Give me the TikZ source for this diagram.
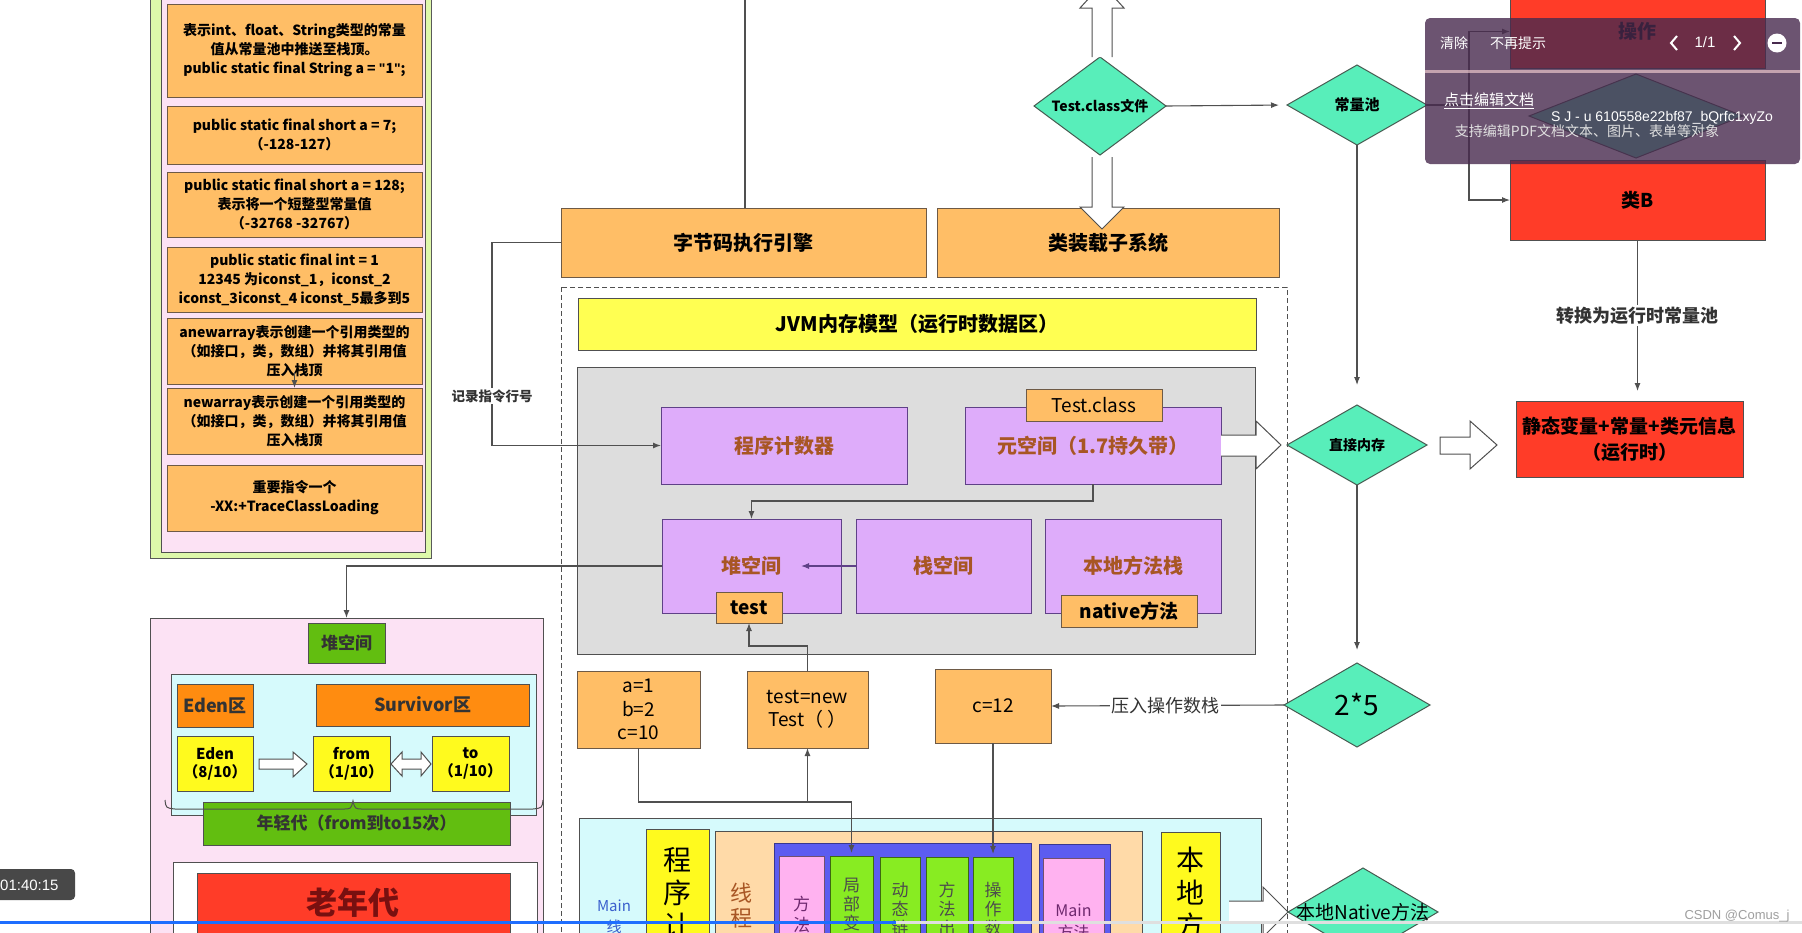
\documentclass[tikz,border=0pt]{standalone}
\usepackage{fontspec}
\setmainfont{Noto Sans CJK SC}
\newfontfamily\uisans{Liberation Sans}
\usetikzlibrary{shapes.geometric,arrows.meta}

\definecolor{orangebox}{RGB}{255,190,102}
\definecolor{obedge}{RGB}{110,90,70}
\definecolor{edge}{RGB}{80,80,80}
\definecolor{lgreen}{RGB}{222,248,170}
\definecolor{panelpink}{RGB}{252,226,244}
\definecolor{violet}{RGB}{222,172,250}
\definecolor{violetedge}{RGB}{95,65,135}
\definecolor{violettext}{RGB}{168,86,36}
\definecolor{jvmyellow}{RGB}{255,255,82}
\definecolor{ylw}{RGB}{255,250,30}
\definecolor{graybg}{RGB}{221,221,221}
\definecolor{mint}{RGB}{88,238,186}
\definecolor{diaedge}{RGB}{70,90,80}
\definecolor{redbox}{RGB}{255,60,40}
\definecolor{leaf}{RGB}{98,190,16}
\definecolor{cyanbg}{RGB}{214,250,252}
\definecolor{darkorange}{RGB}{255,140,16}
\definecolor{peach}{RGB}{255,218,168}
\definecolor{frameblue}{RGB}{92,92,240}
\definecolor{colgreen}{RGB}{136,236,34}
\definecolor{colpink}{RGB}{255,178,240}
\definecolor{mainblue}{RGB}{58,95,205}
\definecolor{mainpurple}{RGB}{110,40,110}
\definecolor{oldtext}{RGB}{120,16,16}
\definecolor{popup}{RGB}{72,42,78}
\definecolor{tsgray}{RGB}{72,72,72}
\definecolor{progblue}{RGB}{30,110,255}

\newcommand\fs[2]{\fontsize{#1}{#2}\selectfont}
% box from its corners: name, x1, y1, x2, y2, style, text
\newcommand\rbox[7]{\node[#6,minimum width={(#4)-(#2)},minimum height={(#5)-(#3)}] (#1) at ({((#2)+(#4))/2},{((#3)+(#5))/2}) {#7};}

\tikzset{
  boxbase/.style={draw=edge, line width=1pt, inner sep=0pt, outer sep=0pt, align=center},
  lbox/.style={boxbase, draw=obedge, fill=orangebox, font=\fs{14}{19}\bfseries},
  tbox/.style={boxbase, draw=obedge, fill=orangebox, font=\fs{20}{24}\bfseries},
  ybar/.style={boxbase, fill=jvmyellow, font=\fs{20}{24}\bfseries},
  rtbox/.style={boxbase, fill=graybg},
  vbox/.style={boxbase, draw=violetedge, fill=violet, text=violettext, font=\fs{20}{24}\bfseries},
  tagbox/.style={boxbase, draw=obedge, fill=orangebox, font=\fs{19}{22}},
  tagbold/.style={tagbox, font=\fs{19}{22}\bfseries},
  vals/.style={boxbase, draw=obedge, fill=orangebox, font=\fs{19}{23.5}},
  dia/.style={diamond, draw=diaedge, line width=1pt, fill=mint, inner sep=0pt, outer sep=0pt},
  redb/.style={boxbase, fill=redbox, font=\fs{19}{26}\bfseries},
  panel/.style={boxbase, fill=panelpink},
  gbox/.style={boxbase, fill=leaf, font=\fs{17}{22}\bfseries, text=black!80},
  cbox/.style={boxbase, fill=cyanbg},
  dobox/.style={boxbase, fill=darkorange, font=\fs{18}{22}\bfseries, text=black!80},
  yb/.style={boxbase, fill=ylw, font=\fs{15}{18}\bfseries},
  wbox/.style={boxbase, fill=white},
  stackframe/.style={boxbase, fill=frameblue, draw=frameblue!60!black},
  colg/.style={boxbase, fill=colgreen, draw=colgreen!45!black},
  colp/.style={boxbase, fill=colpink, draw=colpink!45!black},
  peachb/.style={boxbase, fill=peach},
  hollow/.style={draw=edge, line width=1pt, fill=white, line join=miter},
  link/.style={draw=edge, line width=1.1pt},
  arr/.style={link, -{Latex[length=8pt,width=6pt]}},
  lbl/.style={fill=white, inner sep=1.5pt, text=black!80},
  coltext/.style={align=center, inner sep=0pt},
  poptext/.style={text=white, inner sep=0pt},
}

\begin{document}
\begin{tikzpicture}[x=1pt,y=-1pt]
\useasboundingbox (0,0) rectangle (1802,932);
\clip (0,0) rectangle (1802,932);
\fill[white] (0,0) rectangle (1802,932);

% ---------- instruction panel ----------
\draw[draw=gray!70!black, line width=1pt, fill=lgreen] (150,-5) rectangle (431,558);
\draw[draw=edge, line width=1pt, fill=panelpink] (161,-5) rectangle (425,552);
\rbox{ins1}{167}{4}{422}{97}{lbox}{表示int、float、String类型的常量\\值从常量池中推送至栈顶。\\public static final String a = {\uisans\bfseries"}1{\uisans\bfseries"};}
\rbox{ins2}{167}{106}{422}{164}{lbox}{public static final short a = 7;\\（-128-127）}
\rbox{ins3}{167}{172}{422}{237}{lbox}{public static final short a = 128;\\表示将一个短整型常量值\\（-32768 -32767）}
\rbox{ins4}{167}{247}{422}{312}{lbox}{public static final int = 1\\12345 为iconst\_1，iconst\_2\\iconst\_3iconst\_4 iconst\_5最多到5}
\rbox{ins5}{167}{318}{422}{384}{lbox}{anewarray表示创建一个引用类型的\\（如接口，类，数组）并将其引用值\\压入栈顶}
\rbox{ins6}{167}{388}{422}{454}{lbox}{newarray表示创建一个引用类型的\\（如接口，类，数组）并将其引用值\\压入栈顶}
\rbox{ins7}{167}{465}{422}{531}{lbox}{重要指令一个\\-XX:+TraceClassLoading}
\draw[arr] ([yshift=12pt]ins5.south) -- (ins6.north);

% ---------- engine and class loader ----------
\rbox{engine}{561}{208}{926}{277}{tbox}{字节码执行引擎}
\rbox{loader}{937}{208}{1279}{277}{tbox}{类装载子系统}
\coordinate (topend) at (745,-2);
\draw[link] (topend) -- (topend |- engine.north);

% ---------- runtime data area ----------
\draw[draw=edge, line width=1pt, dash pattern=on 5pt off 3pt] (561,287) rectangle (1287,960);
\rbox{jvm}{578}{298}{1256}{350}{ybar}{JVM内存模型（运行时数据区）}
\rbox{rt}{577}{367}{1255}{654}{rtbox}{}
\rbox{pc}{661}{407}{907}{484}{vbox}{程序计数器}
\rbox{meta}{965}{407}{1221}{484}{vbox}{元空间（1.7持久带）}
\rbox{tcls}{1026}{389}{1162}{421}{tagbox}{Test.class}
\rbox{heap}{662}{519}{841}{613}{vbox}{堆空间}
\rbox{stack}{856}{519}{1031}{613}{vbox}{栈空间}
\rbox{nstack}{1045}{519}{1221}{613}{vbox}{本地方法栈}
\rbox{ttab}{716}{592}{782}{623}{tagbold}{test}
\rbox{ntab}{1061}{595}{1197}{627}{tagbold}{native方法}

\draw[arr] (engine.west) -- ++(-69,0) |- (pc.west);
\node[lbl, font=\fs{13.5}{16}\bfseries] at (492,396) {记录指令行号};
\draw[arr] (meta.south) -- ++(0,17) -| (heap.north);
\draw[arr, draw=violetedge] (stack.west) -- ([xshift=-55pt]stack.west);

% hollow arrow: metaspace -> direct memory
\draw[hollow] (1221,435) -- (1256,435) -- (1256,421) -- (1281,445) -- (1256,469) -- (1256,456) -- (1221,456);

% ---------- values ----------
\rbox{abc}{577}{671}{700}{748}{vals}{a=1\\b=2\\c=10}
\rbox{tnew}{747}{671}{868}{748}{vals}{test=new\\Test（ ）}
\rbox{c12}{935}{669}{1051}{743}{vals}{c=12}
\draw[arr] (tnew.north) -- ++(0,-25) -| (ttab.south);

% ---------- main thread ----------
\rbox{mt}{579}{818}{1261}{960}{cbox}{}
\node[coltext, text=mainblue, font=\fs{15}{21}] at (614,917) {Main\\线};
\rbox{vpc}{646}{829}{709}{960}{boxbase, fill=ylw}{}
\node[coltext, font=\fs{28}{33}] at (677.5,893) {程\\序\\计};
\rbox{thr}{715}{831}{1142}{960}{peachb}{}
\node[coltext, text=violettext, font=\fs{22}{25}] at (741,906) {线\\程};
\rbox{frame}{774}{843}{1031}{960}{stackframe}{}
\rbox{c1}{779}{856}{824}{960}{colp}{}
\node[coltext, text=mainpurple, font=\fs{17}{21}] at (801.5,914) {方\\法};
\rbox{c2}{830}{856}{873}{960}{colg}{}
\node[coltext, text=black!70, font=\fs{17}{19}] at (851.5,904) {局\\部\\变};
\rbox{c3}{880}{857}{920}{960}{colg}{}
\node[coltext, text=black!70, font=\fs{17}{19}] at (900,909) {动\\态\\链};
\rbox{c4}{926}{857}{968}{960}{colg}{}
\node[coltext, text=black!70, font=\fs{17}{19}] at (947,909) {方\\法\\出};
\rbox{c5}{973}{857}{1013}{960}{colg}{}
\node[coltext, text=black!70, font=\fs{17}{19}] at (993,909) {操\\作\\数};
\rbox{frame2}{1039}{844}{1110}{960}{stackframe}{}
\rbox{c6}{1043}{858}{1104}{960}{colp}{}
\node[coltext, text=mainpurple, font=\fs{16}{22}] at (1073.5,922) {Main\\方法};
\rbox{vnm}{1161}{832}{1220}{960}{boxbase, fill=ylw}{}
\node[coltext, font=\fs{28}{33}] at (1190.5,893) {本\\地\\方};

\draw[arr, shorten >=3pt] (abc.south) -- ++(0,54) coordinate (bend) -| (c2.north);
\draw[arr] (bend -| tnew.south) -- (tnew.south);
\draw[arr, shorten >=3pt] (c12.south) -- (c5.north);

% hollow arrow: main thread -> native method
\draw[hollow] (1229,901) -- (1263,901) -- (1263,887) -- (1288,912) -- (1263,937) -- (1263,922) -- (1229,922);

% ---------- class file flow ----------
\node[dia, minimum width=132, minimum height=98] (tcf) at (1100,106) {};
\node[font=\fs{14}{16}\bfseries] at (tcf) {Test.class文件};
\draw[hollow] (1092,57) -- (1092,8) -- (1080,8) -- (1102,-16) -- (1124,8) -- (1112,8) -- (1112,57);
\draw[hollow] (1092,157) -- (1092,207) -- (1080,207) -- (1102,229) -- (1124,207) -- (1112,207) -- (1112,157);

\node[dia, minimum width=140, minimum height=80] (pool) at (1357,105) {};
\node[font=\fs{15}{17}\bfseries] at (pool) {常量池};
\draw[arr, shorten >=8pt] (tcf.east) -- (pool.west);

\node[dia, minimum width=140, minimum height=80] (dmem) at (1357,445) {};
\node[font=\fs{14}{16}\bfseries] at (dmem) {直接内存};
\draw[arr, shorten >=20pt] (pool.south) -- (dmem.north);

\node[dia, minimum width=146, minimum height=84] (two) at (1357,705) {};
\node[font=\fs{28}{30}] at (two) {2*5};
\draw[arr, shorten >=13pt] (dmem.south) -- (two.north);
\draw[arr] (two.west) -- (c12.east) node[pos=0.51, lbl, font=\fs{18}{20}] {压入操作数栈};

\node[dia, minimum width=150, minimum height=88] (nat) at (1363,912) {};
\node[font=\fs{19}{21}] at (nat) {本地Native方法};

% ---------- constant pool targets ----------
\rbox{redtop}{1510}{-5}{1765}{68}{redb}{操作}
\node[dia, minimum width=214, minimum height=84] (hid) at (1636,116) {};
\rbox{classb}{1510}{160}{1765}{240}{redb}{类B}
\draw[link] (pool.east) -- ++(42,0) coordinate (split);
\draw[arr] (split) |- (redtop.west);
\draw[arr] (split) |- (classb.west);

\rbox{static}{1516}{401}{1743}{477}{redb}{静态变量+常量+类元信息\\（运行时）}
\draw[arr, shorten >=10pt] (classb.south) -- (classb.south |- static.north)
  node[pos=0.47, lbl, font=\fs{18}{20}\bfseries] {转换为运行时常量池};
\draw[hollow] (1440,437) -- (1470,437) -- (1470,421) -- (1497,445) -- (1470,469) -- (1470,454) -- (1440,454) -- cycle;

% ---------- heap detail ----------
\rbox{hpanel}{150}{618}{543}{960}{panel}{}
\draw[arr] (heap.west) -| (hpanel.north);
\rbox{hlabel}{308}{623}{385}{663}{gbox}{堆空间}
\rbox{young}{171}{674}{536}{815}{cbox}{}
\rbox{edenq}{177}{684}{253}{727}{dobox}{Eden区}
\rbox{surv}{316}{684}{529}{726}{dobox}{Survivor区}
\rbox{eden}{177}{736}{253}{791}{yb}{Eden\\（8/10）}
\rbox{from}{313}{736}{390}{791}{yb}{from\\（1/10）}
\rbox{to}{432}{736}{509}{791}{yb}{to\\（1/10）}
\draw[hollow] (259,759) -- (293,759) -- (293,752) -- (307,764) -- (293,777) -- (293,769) -- (259,769) -- cycle;
\draw[hollow] (391,764) -- (402,752) -- (402,759) -- (421,759) -- (421,752) -- (431,764) -- (421,776) -- (421,769) -- (402,769) -- (402,776) -- cycle;
\rbox{ylabel}{203}{802}{510}{845}{gbox}{年轻代（from到to15次）}
\draw[edge, line width=1pt] (165,800) .. controls (166,808) .. (175,809) -- (343,809)
  .. controls (351,809) .. (353,801) .. controls (355,809) .. (363,809) -- (533,809)
  .. controls (542,808) .. (543,800);
\rbox{oldw}{173}{862}{537}{960}{wbox}{}
\rbox{old}{197}{873}{510}{960}{boxbase, fill=redbox}{}
\node[text=oldtext, font=\fs{31}{34}\bfseries] at (353,903) {老年代};

% ---------- document viewer popup ----------
\fill[popup, fill opacity=0.8, rounded corners=5pt] (1425,18) rectangle (1800,164);
\fill[pink!60!white, opacity=0.6] (1425,69.5) rectangle (1800,73);
\node[poptext, font=\fs{14}{16}] at (1454,43) {清除};
\node[poptext, font=\fs{14}{16}] at (1518,43) {不再提示};
\draw[white, line width=2pt] (1677,36) -- (1671,43) -- (1677,50);
\node[poptext, font=\uisans\fs{15}{17}] at (1705,42) {1/1};
\draw[white, line width=2pt] (1734,36) -- (1740,43) -- (1734,50);
\fill[white] (1777,43) circle (9.5);
\draw[popup, line width=2.5pt] (1772,43) -- (1782,43);
\node[poptext, font=\fs{15}{17}] at (1489,101) {\underline{点击编辑文档}};
\node[poptext, font=\uisans\fs{14}{16}] at (1662,118) {S J - u 610558e22bf87\_bQrfc1xyZo};
\node[poptext, text=white!88!black, font=\fs{14}{16}] at (1587,131) {支持编辑PDF文档文本、图片、表单等对象};

% ---------- player overlay ----------
\fill[tsgray, rounded corners=4pt] (-6,869) rectangle (75,900);
\node[text=white, anchor=west, inner sep=0pt, font=\uisans\fs{15}{17}] at (0,885) {01:40:15};
\fill[gray!25] (0,921) rectangle (1802,924);
\fill[progblue] (0,921) rectangle (896,924);
\node[text=gray!75, font=\uisans\fs{13}{15}] at (1737,916) {CSDN @Comus\_j};
\end{tikzpicture}
\end{document}
